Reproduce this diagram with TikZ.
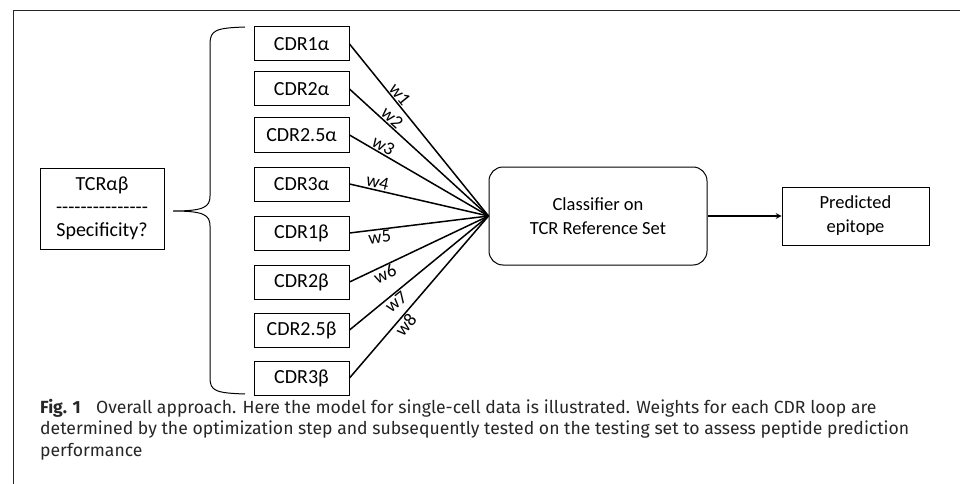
\documentclass[tikz,border=0pt]{standalone}
\usepackage{fontspec}
\setmainfont{Carlito}
\newfontfamily\capfont{Fira Sans}

\begin{document}
\begin{tikzpicture}[x=1pt,y=-1pt]
        % Define styles
        \tikzset{
            cdr/.style={rectangle, draw, line width=1pt, minimum width=95pt, minimum height=34pt, inner sep=0pt, font=\fontsize{20}{24}\selectfont},
            query/.style={rectangle, draw, line width=1pt, minimum width=124pt, minimum height=81pt, align=center, font=\fontsize{20}{23}\selectfont},
            classifier/.style={rectangle, rounded corners=14pt, draw, line width=1pt, minimum width=218pt, minimum height=98pt, align=center, font=\fontsize{18.5}{24}\selectfont},
            result/.style={rectangle, draw, line width=1pt, minimum width=147pt, minimum height=58pt, align=center, font=\fontsize{18.5}{24}\selectfont},
            weight/.style={line width=1.5pt},
            wlabel/.style={sloped, inner sep=1pt, font=\fontsize{18.5}{20}\selectfont},
            arrow/.style={->,>=stealth, line width=1.5pt}
        }
        \useasboundingbox (0,0) rectangle (960,484);

        % Frame
        \draw[line width=1pt, black!85] (13,484) -- (13,11) [rounded corners=10pt] -- (960,11);

        % Nodes
        \node[query] (tcr_node) at (102,208.5) {TCRαβ\\{-}{-}{-}{-}{-}{-}{-}{-}{-}{-}{-}{-}{-}{-}{-}\\Specificity?};
        \node[cdr] (cdr_node_1) at (301.5,44) {CDR1α};
        \node[cdr] (cdr_node_2) at (301.5,89) {CDR2α};
        \node[cdr] (cdr_node_3) at (301.5,135) {CDR2.5α};
        \node[cdr] (cdr_node_4) at (301.5,184) {CDR3α};
        \node[cdr] (cdr_node_5) at (301.5,233) {CDR1β};
        \node[cdr] (cdr_node_6) at (301.5,282) {CDR2β};
        \node[cdr] (cdr_node_7) at (301.5,330) {CDR2.5β};
        \node[cdr] (cdr_node_8) at (301.5,378) {CDR3β};
        \node[classifier] (classifier_node) at (598,216) {Classifier on\\TCR Reference Set};
        \node[result] (result_node) at (855.5,216) {Predicted\\epitope};

        % Brace
        \draw[line width=1pt] (245,27) .. controls (216,28) and (210,30) .. (210,44) -- (210,196)
            .. controls (210,207) and (204,211) .. (173,211)
            .. controls (204,211) and (210,215) .. (210,226) -- (210,378)
            .. controls (210,391) and (216,393) .. (245,394);

        % Weighted links
        \draw[weight] (cdr_node_1.east) -- (classifier_node.west) node[wlabel, pos=0.32, above] {w1};
        \draw[weight] (cdr_node_2.east) -- (classifier_node.west) node[wlabel, pos=0.27, above] {w2};
        \draw[weight] (cdr_node_3.east) -- (classifier_node.west) node[wlabel, pos=0.215, above] {w3};
        \draw[weight] (cdr_node_4.east) -- (classifier_node.west) node[wlabel, pos=0.19, above] {w4};
        \draw[weight] (cdr_node_5.east) -- (classifier_node.west) node[wlabel, pos=0.21, below] {w5};
        \draw[weight] (cdr_node_6.east) -- (classifier_node.west) node[wlabel, pos=0.23, below] {w6};
        \draw[weight] (cdr_node_7.east) -- (classifier_node.west) node[wlabel, pos=0.30, below] {w7};
        \draw[weight] (cdr_node_8.east) -- (classifier_node.west) node[wlabel, pos=0.36, below] {w8};
        \draw[arrow] (classifier_node) -- (result_node);

        % Caption
        \node[anchor=north west, align=left, inner sep=0pt, font=\capfont\fontsize{17.6}{21.5}\selectfont, black!85] (caption_node) at (40,399)
            {\textbf{Fig. 1}\hspace{0.6em} Overall approach. Here the model for single-cell data is illustrated. Weights for each CDR loop are\\
             determined by the optimization step and subsequently tested on the testing set to assess peptide prediction\\
             performance};
\end{tikzpicture}
\end{document}
